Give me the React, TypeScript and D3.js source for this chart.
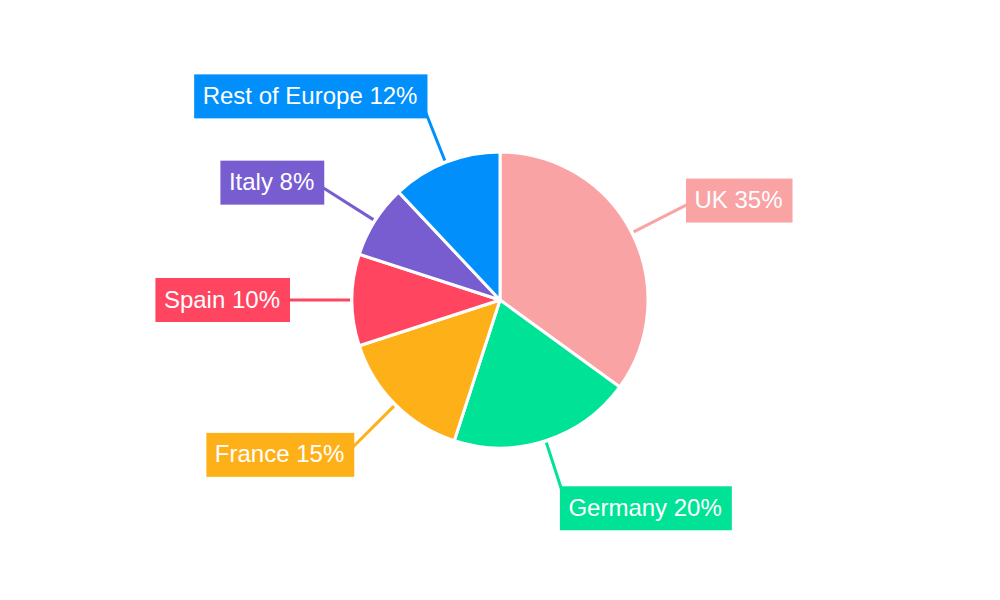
import React from "react";
import * as d3 from "d3";

const categories = ["UK", "Germany", "France", "Spain", "Italy", "Rest of Europe"];
const values = [35, 20, 15, 10, 8, 12];
const colors = ["#F9A3A4", "#00E396", "#FEB019", "#FF4560", "#775DD0", "#008FFB"];

const W = 1000;
const H = 600;
const CX = 500;
const CY = 300;
const R = 148;
const LINE_START = 150;
const LINE_END = 210;
const LABEL_RY = 219;
const FONT = 24;
const PAD_L = 8.5;
const PAD_R = 10;
const BOX_H = 44;

function textWidth(t: string): number {
  if (typeof document === "undefined") return t.length * 12;
  const c = document.createElement("canvas").getContext("2d");
  if (!c) return t.length * 12;
  c.font = `${FONT}px "Liberation Sans", Arial, sans-serif`;
  return c.measureText(t).width;
}

export default function App() {
  const data = categories.map((c, i) => ({ name: c, value: values[i], color: colors[i] }));
  const pie = d3.pie<any>().value((d) => d.value).sort(null).startAngle(0).endAngle(2 * Math.PI);
  const arcs = pie(data);
  const arc = d3.arc<any>().innerRadius(0).outerRadius(R);

  return (
    <svg width={W} height={H} style={{ display: "block", position: "absolute", left: 0, top: 0 }}>
      <rect width={W} height={H} fill="#fff" />
      <g transform={`translate(${CX},${CY})`}>
        {arcs.map((a, i) => (
          <path key={i} d={arc(a) as string} fill={a.data.color} stroke="#fff" strokeWidth={3} strokeLinejoin="round" />
        ))}
      </g>
      {arcs.map((a, i) => {
        const mid = (a.startAngle + a.endAngle) / 2;
        const s = Math.sin(mid);
        const c = Math.cos(mid);
        const x1 = CX + LINE_START * s;
        const y1 = CY - LINE_START * c;
        const x2 = CX + LINE_END * s;
        const y2 = CY - LINE_END * c;
        return (
          <line key={"l" + i} x1={x1} y1={y1} x2={x2} y2={y2} stroke={a.data.color} strokeWidth={3} />
        );
      })}
      {arcs.map((a, i) => {
        const mid = (a.startAngle + a.endAngle) / 2;
        const s = Math.sin(mid);
        const c = Math.cos(mid);
        const label = `${a.data.name} ${a.data.value}%`;
        const tw = textWidth(label);
        const bw = tw + PAD_L + PAD_R;
        const right = s >= 0;
        const ax = CX + LINE_END * s - (right ? 1 : -1) * 5.5 * c * c;
        const cy = CY - LABEL_RY * c;
        const bx = right ? ax : ax - bw;
        const by = cy - BOX_H / 2;
        return (
          <g key={"t" + i}>
            <rect x={bx} y={by} width={bw} height={BOX_H} fill={a.data.color} />
            <text
              x={bx + PAD_L}
              y={cy + 7.5}
              fill="#fff"
              fontSize={FONT}
              fontFamily='"Liberation Sans", Arial, sans-serif'
            >
              {label}
            </text>
          </g>
        );
      })}
    </svg>
  );
}
